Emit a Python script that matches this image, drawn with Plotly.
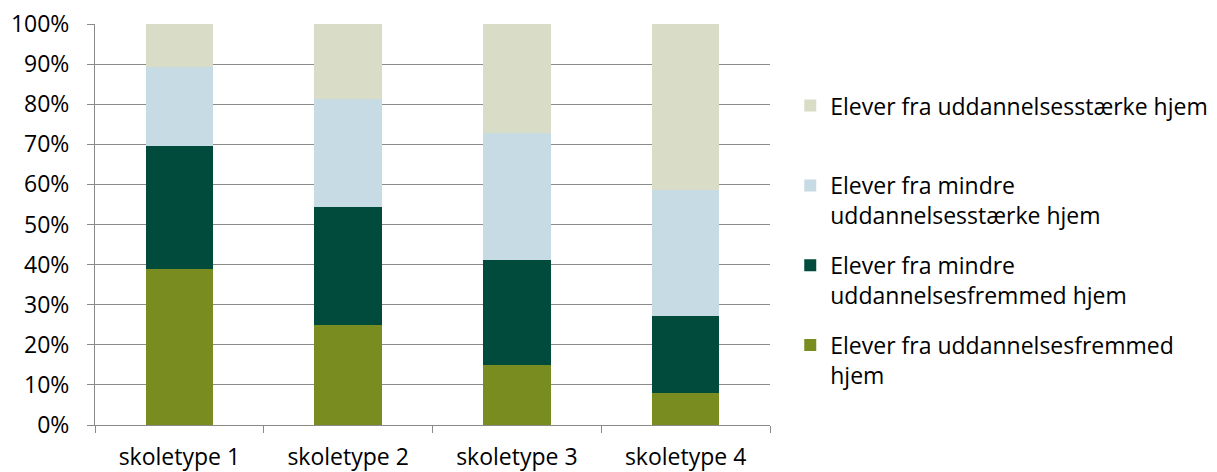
import plotly.graph_objects as go

categories = ["skoletype 1", "skoletype 2", "skoletype 3", "skoletype 4"]
uddannelsesfremmed = [38.9, 24.9, 15.0, 8.1]
mindre_fremmed = [30.7, 29.5, 26.1, 19.0]
mindre_staerke = [19.8, 26.8, 31.8, 31.4]
staerke = [10.6, 18.8, 27.1, 41.5]

series = [
    ("Elever fra uddannelsesfremmed<br>hjem", uddannelsesfremmed, "#788C20", 4),
    ("Elever fra mindre<br>uddannelsesfremmed hjem", mindre_fremmed, "#004B3C", 3),
    ("Elever fra mindre<br>uddannelsesstærke hjem", mindre_staerke, "#C7DBE4", 2),
    ("Elever fra uddannelsesstærke hjem<br> ", staerke, "#D9DCC7", 1),
]

FONT = "Open Sans"
SIZE = 23
fig = go.Figure()
for i, (name, vals, color, rank) in enumerate(series):
    fig.add_trace(go.Bar(
        x=categories, y=vals, name=name, marker_color=color,
        marker_line_width=0, legendgroup=f"g{i}", legendrank=rank,
    ))

fig.update_layout(
    barmode="stack",
    bargap=0.6,
    width=1217, height=472,
    margin=dict(l=87, r=443, t=16, b=55),
    paper_bgcolor="white", plot_bgcolor="white",
    font=dict(family=FONT, size=SIZE, color="#000000"),
    showlegend=True,
    legend=dict(
        x=1.03, xanchor="left", y=0.85, yanchor="top",
        traceorder="grouped", tracegroupgap=17,
        valign="top", itemwidth=30,
        font=dict(family=FONT, size=SIZE, color="#000000"),
        bgcolor="rgba(0,0,0,0)",
    ),
)
fig.update_yaxes(
    range=[0, 100], dtick=10, ticksuffix="%",
    showgrid=True, gridcolor="#8A8A8A", gridwidth=1,
    showline=True, linecolor="#8A8A8A", linewidth=1,
    ticks="outside", ticklen=7, tickcolor="#8A8A8A",
    ticklabelstandoff=13, ticklabeloverflow="allow",
    zeroline=False, fixedrange=True, automargin=False,
)
fig.update_xaxes(
    showline=True, linecolor="#8A8A8A", linewidth=1,
    ticks="outside", ticklen=7, tickcolor="#8A8A8A",
    tickson="boundaries", ticklabelstandoff=11, ticklabeloverflow="allow",
    fixedrange=True, automargin=False,
)
fig.write_html("out.html")
